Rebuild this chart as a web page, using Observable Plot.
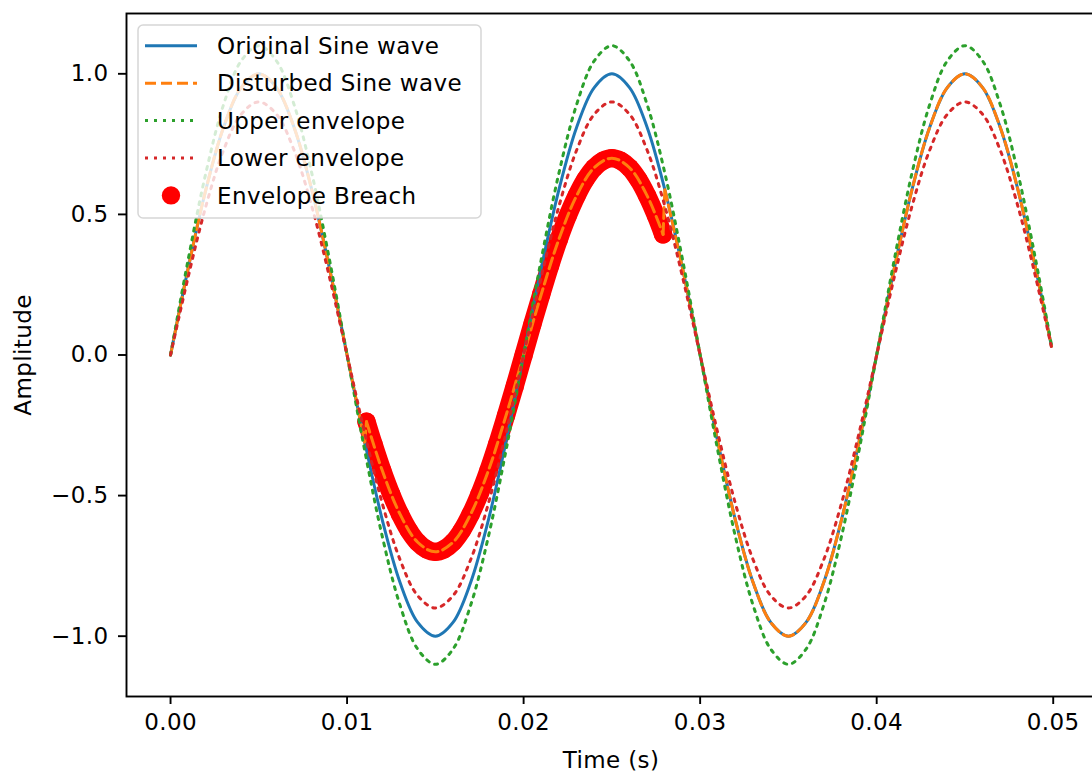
<!DOCTYPE html>
<html>
<head>
<meta charset="utf-8">
<script src="https://cdn.jsdelivr.net/npm/d3@7"></script>
<script src="https://cdn.jsdelivr.net/npm/@observablehq/plot@0.6"></script>
<style>
  html, body { margin: 0; padding: 0; background: #fff; overflow: hidden; }
  #chart svg { display: block; }
</style>
</head>
<body>
<div id="chart"></div>
<script>
// ---------- data ----------
const time = [
  0, 0.001, 0.002, 0.003, 0.004, 0.005, 0.006, 0.007, 0.008, 0.009,
  0.010, 0.011, 0.012, 0.013, 0.014, 0.015, 0.016, 0.017, 0.018, 0.019,
  0.020, 0.021, 0.022, 0.023, 0.024, 0.025, 0.026, 0.027, 0.028, 0.029,
  0.030, 0.031, 0.032, 0.033, 0.034, 0.035, 0.036, 0.037, 0.038, 0.039,
  0.040, 0.041, 0.042, 0.043, 0.044, 0.045, 0.046, 0.047, 0.048, 0.049,
  0.0499
];
const original = [
  0, 0.309, 0.588, 0.809, 0.951, 1.0, 0.951, 0.809, 0.588, 0.309,
  0, -0.309, -0.588, -0.809, -0.951, -1.0, -0.951, -0.809, -0.588, -0.309,
  0, 0.309, 0.588, 0.809, 0.951, 1.0, 0.951, 0.809, 0.588, 0.309,
  0, -0.309, -0.588, -0.809, -0.951, -1.0, -0.951, -0.809, -0.588, -0.309,
  0, 0.309, 0.588, 0.809, 0.951, 1.0, 0.951, 0.809, 0.588, 0.309,
  0.031
];
const upper = [
  0, 0.340, 0.647, 0.890, 1.046, 1.1, 1.046, 0.890, 0.647, 0.340,
  0, -0.340, -0.647, -0.890, -1.046, -1.1, -1.046, -0.890, -0.647, -0.340,
  0, 0.340, 0.647, 0.890, 1.046, 1.1, 1.046, 0.890, 0.647, 0.340,
  0, -0.340, -0.647, -0.890, -1.046, -1.1, -1.046, -0.890, -0.647, -0.340,
  0, 0.340, 0.647, 0.890, 1.046, 1.1, 1.046, 0.890, 0.647, 0.340,
  0.035
];
const lower = [
  0, 0.278, 0.529, 0.728, 0.856, 0.9, 0.856, 0.728, 0.529, 0.278,
  0, -0.278, -0.529, -0.728, -0.856, -0.9, -0.856, -0.728, -0.529, -0.278,
  0, 0.278, 0.529, 0.728, 0.856, 0.9, 0.856, 0.728, 0.529, 0.278,
  0, -0.278, -0.529, -0.728, -0.856, -0.9, -0.856, -0.728, -0.529, -0.278,
  0, 0.278, 0.529, 0.728, 0.856, 0.9, 0.856, 0.728, 0.529, 0.278,
  0.028
];
const disturbedTime = [
  0, 0.001, 0.002, 0.003, 0.004, 0.005, 0.006, 0.007, 0.008, 0.009, 0.010, 0.011,
  0.0111,
  0.012, 0.013, 0.014, 0.015, 0.016, 0.017, 0.018, 0.019, 0.020, 0.021, 0.022,
  0.023, 0.024, 0.025, 0.026, 0.027,
  0.0279,
  0.028, 0.029, 0.030, 0.031, 0.032, 0.033, 0.034, 0.035, 0.036, 0.037, 0.038,
  0.039, 0.040, 0.041, 0.042, 0.043, 0.044, 0.045, 0.046, 0.047, 0.048, 0.049,
  0.0499
];
const disturbedValue = [
  0, 0.309, 0.588, 0.809, 0.951, 1.0, 0.951, 0.809, 0.588, 0.309, 0, -0.309,
  -0.237,
  -0.412, -0.566, -0.666, -0.700, -0.666, -0.566, -0.412, -0.216, 0, 0.216, 0.412,
  0.566, 0.666, 0.700, 0.666, 0.566,
  0.429,
  0.588, 0.309, 0, -0.309, -0.588, -0.809, -0.951, -1.0, -0.951, -0.809, -0.588,
  -0.309, 0, 0.309, 0.588, 0.809, 0.951, 1.0, 0.951, 0.809, 0.588, 0.309,
  0.031
];
const breachTime = [
  0.0111, 0.0115, 0.012, 0.0125, 0.013, 0.0135, 0.014, 0.0145, 0.015, 0.0155,
  0.016, 0.0165, 0.017, 0.0175, 0.018, 0.0185, 0.019, 0.0195, 0.020, 0.0205,
  0.021, 0.0215, 0.022, 0.0225, 0.023, 0.0235, 0.024, 0.0245, 0.025, 0.0255,
  0.026, 0.0265, 0.027, 0.0275, 0.0279
];
const breachValue = [
  -0.237, -0.318, -0.412, -0.495, -0.566, -0.624, -0.666, -0.691, -0.700, -0.691,
  -0.666, -0.624, -0.566, -0.495, -0.412, -0.318, -0.216, -0.110, 0, 0.110,
  0.216, 0.318, 0.412, 0.495, 0.566, 0.624, 0.666, 0.691, 0.700, 0.691,
  0.666, 0.624, 0.566, 0.495, 0.429
];
const xTicks = [0, 0.01, 0.02, 0.03, 0.04, 0.05];
const yTicks = [-1.0, -0.5, 0.0, 0.5, 1.0];
const legendLabels = ["Original Sine wave", "Disturbed Sine wave", "Upper envelope", "Lower envelope", "Envelope Breach"];
const xLabel = "Time (s)";
const yLabel = "Amplitude";

// ---------- styles ----------
const C = { orig: "#1f77b4", dist: "#ff7f0e", up: "#2ca02c", low: "#d62728", breach: "#ff0000" };
const FONT = "DejaVu Sans";
const FS = 23;
const LW = 3;
const DOT = "3,6";
const DASH = "11,5";

// ---------- build rows ----------
const rows = (ts, vs) => ts.map((t, i) => ({ t, v: vs[i] }));
const origRows = rows(time, original);
const upperRows = rows(time, upper);
const lowerRows = rows(time, lower);
const breachRows = rows(breachTime, breachValue);

const bStart = breachTime[0], bEnd = breachTime[breachTime.length - 1];
const distAll = rows(disturbedTime, disturbedValue).map(d => ({
  ...d, part: d.t < bStart ? "a" : (d.t <= bEnd ? "b" : "c")
}));
// connectors across the jumps (vertical steps)
const distRows = [...distAll];
for (let i = 1; i < distAll.length; i++) {
  if (distAll[i].part !== distAll[i - 1].part) {
    const k = "j" + i;
    distRows.push({ ...distAll[i - 1], part: k }, { ...distAll[i], part: k });
  }
}

const plot = Plot.plot({
  width: 1092,
  height: 773,
  marginLeft: 126,
  marginRight: -3,
  marginTop: 13,
  marginBottom: 77,
  style: { fontFamily: FONT, fontSize: FS + "px", color: "black", background: "white", letterSpacing: "0.4px" },
  x: { domain: [-0.002495, 0.052395], label: null },
  y: { domain: [-1.2145, 1.2145], label: null },
  marks: [
    Plot.line(breachRows, { x: "t", y: "v", stroke: C.breach, strokeWidth: 18.4, strokeLinecap: "round", strokeLinejoin: "round", curve: "catmull-rom" }),
    Plot.dot(breachRows, { x: "t", y: "v", r: 9.2, fill: C.breach }),
    Plot.line(origRows, { x: "t", y: "v", stroke: C.orig, strokeWidth: LW, curve: "catmull-rom" }),
    Plot.line(distRows, { x: "t", y: "v", z: "part", stroke: C.dist, strokeWidth: LW, strokeDasharray: DASH, curve: "catmull-rom" }),
    Plot.line(upperRows, { x: "t", y: "v", stroke: C.up, strokeWidth: LW, strokeDasharray: DOT, curve: "catmull-rom" }),
    Plot.line(lowerRows, { x: "t", y: "v", stroke: C.low, strokeWidth: LW, strokeDasharray: DOT, curve: "catmull-rom" }),
    Plot.frame({ stroke: "black", strokeWidth: 1.9 }),
    Plot.axisX({ ticks: xTicks, tickFormat: d3.format(".2f"), tickSize: 8, tickPadding: 9, strokeWidth: 1.9, label: null }),
    Plot.axisY({ ticks: yTicks, tickFormat: d3.format(".1f"), tickSize: 8, tickPadding: 10, strokeWidth: 1.9, label: null }),
    Plot.text([xLabel], { frameAnchor: "bottom", dy: 71, fontSize: FS }),
    Plot.text([yLabel], { frameAnchor: "left", dx: -103, rotate: -90, textAnchor: "middle", fontSize: FS })
  ]
});

document.getElementById("chart").appendChild(plot);

// ---------- legend (inside the axes, upper left) ----------
const svg = d3.select(plot);
const lg = svg.append("g").attr("font-family", FONT).attr("font-size", FS)
  .attr("letter-spacing", "0.4px").attr("text-anchor", "start");
lg.append("rect")
  .attr("x", 138).attr("y", 25).attr("width", 343).attr("height", 193).attr("rx", 5)
  .attr("fill", "white").attr("fill-opacity", 0.8)
  .attr("stroke", "#cccccc").attr("stroke-opacity", 0.8).attr("stroke-width", 1.5);
const legendStyles = [
  { type: "line", color: C.orig, dash: null },
  { type: "line", color: C.dist, dash: DASH },
  { type: "line", color: C.up, dash: DOT },
  { type: "line", color: C.low, dash: DOT },
  { type: "dot", color: C.breach }
];
legendLabels.forEach((label, i) => {
  const y = 45.8 + 37.4 * i;
  const s = legendStyles[i];
  if (s.type === "line") {
    const l = lg.append("line").attr("x1", 145).attr("x2", 197).attr("y1", y).attr("y2", y)
      .attr("stroke", s.color).attr("stroke-width", LW);
    if (s.dash) l.attr("stroke-dasharray", s.dash);
  } else {
    lg.append("circle").attr("cx", 171).attr("cy", y).attr("r", 9.2).attr("fill", s.color);
  }
  lg.append("text").attr("x", 217).attr("y", y).attr("dy", "0.36em")
    .attr("text-anchor", "start").attr("fill", "black").text(label);
});
</script>
</body>
</html>
